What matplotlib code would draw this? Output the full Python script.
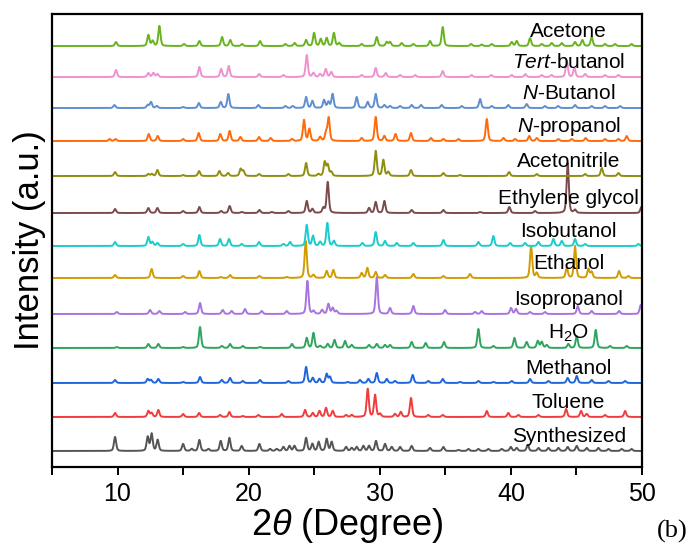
import numpy as np
import matplotlib.pyplot as plt

plt.rcParams['font.family'] = ['Liberation Sans', 'DejaVu Sans']
plt.rcParams['mathtext.fontset'] = 'custom'
plt.rcParams['mathtext.rm'] = 'Liberation Sans'
plt.rcParams['mathtext.it'] = 'Liberation Sans:italic'

# peak positions (2theta) and heights, per sample
acetone_pos = [9.88, 12.35, 12.68, 13.19, 15.07, 16.24, 17.97, 18.6, 19.5, 20.87, 22.8, 23.5, 24.38, 24.99,
               25.5, 25.95, 26.5, 26.9, 28.62, 29.77, 30.53, 30.78, 31.67, 32.56, 33.83, 34.8, 36.96, 37.77,
               38.54, 40.06, 40.44, 41.46, 42.35, 43.11, 43.88, 44.89, 45.45, 46.16, 47.18, 47.94, 49.2]
acetone_int = [4, 11, 5, 20, 2, 5, 9, 6, 2, 5, 2, 3, 6, 13, 7, 8, 13, 3, 2, 9, 4, 4, 3, 2, 5, 19, 2, 1.5,
               2, 4, 5, 8, 2, 3, 3, 4, 6, 9, 2, 2, 2]

tert_pos = [9.88, 12.35, 12.73, 13.04, 16.24, 17.9, 18.48, 20.8, 22.65, 24.43, 24.94, 25.45, 25.88, 26.3,
            28.62, 29.69, 30.45, 31.55, 32.7, 34.8, 37.0, 38.5, 40.06, 41.1, 42.35, 43.1, 44.26, 44.84,
            45.66, 47.18, 48.2]
tert_int = [7, 4, 4, 3, 10, 8, 11, 3, 2, 22, 4, 3, 8, 5, 2, 9, 4, 2, 2, 6, 2, 2, 2, 3, 2, 2, 16, 9, 3, 2, 2]

nbut_pos = [9.76, 12.3, 12.55, 12.99, 15.0, 16.2, 17.87, 18.45, 20.74, 22.8, 23.36, 24.38, 24.86, 25.75,
            26.08, 26.4, 28.24, 29.08, 29.69, 30.35, 30.78, 31.55, 32.43, 33.15, 34.72, 36.25, 37.65, 38.54,
            39.8, 41.2, 42.6, 43.6, 44.89, 46.16, 47.18, 48.33]
nbut_int = [3, 3, 6, 2, 1, 5, 6, 14, 3, 2, 2, 11, 7, 8, 6, 14, 11, 6, 14, 3, 2, 2, 3, 3, 3, 2, 9, 2,
            3, 4, 2, 2, 3, 2, 2, 2]

nprop_pos = [9.4, 9.85, 12.38, 13.06, 15.0, 16.19, 17.84, 18.55, 19.37, 20.79, 21.68, 23.3, 24.22, 24.63,
             25.45, 25.9, 26.1, 28.62, 29.69, 30.35, 31.2, 32.38, 33.9, 34.85, 36.0, 38.16, 39.43, 40.32,
             41.4, 41.97, 43.62, 44.64, 45.7, 47.18, 48.2, 48.83]
nprop_int = [2, 2, 7, 5, 2, 8, 7, 10, 4, 4, 3, 2, 21, 12, 4, 8, 23, 3, 24, 5, 7, 8, 3, 2, 2, 22, 3, 2,
             5, 3, 2, 2, 3, 2, 2, 5]

acn_pos = [9.81, 12.35, 12.62, 13.04, 15.0, 16.22, 17.77, 18.43, 19.39, 19.6, 20.8, 23.03, 24.38, 25.32,
           25.8, 26.03, 26.3, 29.69, 30.27, 30.65, 32.38, 34.85, 36.12, 39.86, 41.97, 45.66, 46.93, 48.2]
acn_int = [4, 2, 2, 6, 1, 5, 5, 3, 7, 5, 2, 2, 13, 2, 14, 11, 4, 25, 16, 4, 6, 3, 1, 4, 2, 2, 8, 3]

eg_pos = [9.81, 12.35, 13.04, 15.0, 16.24, 17.9, 18.55, 19.47, 20.82, 21.76, 23.03, 24.43, 24.86, 25.7,
          26.03, 29.18, 29.69, 30.35, 32.43, 34.85, 37.65, 39.88, 41.84, 44.33, 44.89, 49.95]
eg_int = [4, 5, 5, 2, 6, 2, 7, 1, 3, 1, 2, 12, 4, 5, 31, 5, 11, 12, 3, 3, 1, 6, 2, 50, 3, 6]

isobut_pos = [9.81, 12.35, 12.66, 13.04, 15.0, 16.24, 17.82, 18.5, 19.47, 20.79, 22.65, 23.16, 24.43, 24.91,
              25.45, 26.0, 26.5, 28.67, 29.69, 30.4, 31.29, 32.56, 34.85, 37.52, 38.66, 39.94, 41.08, 42.1,
              43.24, 43.88, 44.89, 45.66, 49.72]
isobut_int = [4, 9, 4, 3, 2, 11, 7, 7, 2, 4, 2, 4, 21, 10, 4, 23, 5, 3, 14, 5, 3, 3, 6, 4, 10, 3, 3, 4,
              7, 5, 7, 2, 2]

ethanol_pos = [9.81, 12.6, 15.0, 16.24, 17.87, 18.58, 20.82, 22.9, 24.35, 24.94, 25.95, 26.46, 28.62, 29.05,
               29.69, 30.4, 32.56, 34.85, 36.88, 41.54, 41.97, 44.26, 44.89, 45.91, 46.16, 48.25, 48.96]
ethanol_int = [3, 9, 2, 7, 1, 3, 2, 1, 37, 3, 7, 8, 5, 10, 6, 3, 4, 2, 4, 32, 5, 10, 32, 9, 6, 7, 2]

iprop_pos = [9.94, 12.48, 13.19, 15.15, 16.29, 18.02, 18.7, 19.72, 20.99, 22.9, 24.48, 24.94, 25.6, 26.08,
             26.41, 26.7, 29.77, 30.78, 32.56, 34.98, 37.27, 37.77, 40.01, 40.39, 41.46, 42.6, 45.1, 46.16,
             48.25, 49.9]
iprop_int = [2, 4, 3, 2, 11, 4, 3, 5, 3, 3, 33, 3, 4, 10, 6, 3, 37, 6, 8, 4, 2, 3, 6, 5, 2, 2, 8, 3, 3, 9]

water_pos = [9.94, 12.35, 13.11, 15.0, 16.29, 17.95, 18.58, 19.55, 20.87, 23.3, 24.43, 24.94, 25.45, 26.03,
             26.55, 27.35, 27.86, 29.18, 29.77, 30.4, 30.78, 32.43, 33.5, 34.9, 37.52, 38.66, 40.27, 41.2,
             42.05, 42.35, 42.73, 44.38, 45.02, 46.47, 47.56, 48.83]
water_int = [1, 4, 4, 1, 21, 2, 4, 2, 1, 4, 10, 15, 2, 4, 8, 7, 3, 3, 4, 3, 3, 6, 5, 6, 19, 2, 10, 6,
             7, 6, 3, 4, 12, 18, 2, 2]

methanol_pos = [9.81, 12.3, 12.55, 13.11, 15.0, 16.29, 17.95, 18.58, 19.55, 20.87, 23.03, 24.38, 24.89,
                25.4, 25.95, 26.2, 27.55, 28.49, 29.13, 29.77, 30.53, 31.16, 32.51, 33.7, 34.8, 36.12, 37.52,
                38.66, 40.06, 41.46, 42.86, 44.33, 45.02, 46.16, 47.44, 48.71]
methanol_int = [3, 4, 3, 4, 1, 6, 3, 5, 2, 3, 2, 16, 5, 4, 9, 6, 1, 3, 4, 10, 4, 2, 8, 2, 4, 1, 2,
                1, 2, 4, 2, 5, 7, 3, 2, 2]

toluene_pos = [9.81, 12.35, 12.6, 13.11, 15.0, 16.22, 17.82, 18.53, 19.55, 20.74, 22.52, 24.3, 24.89, 25.4,
               25.9, 26.41, 27.43, 27.86, 29.08, 29.64, 30.02, 31.16, 31.6, 32.38, 33.7, 34.8, 38.16, 39.8,
               40.57, 42.1, 44.21, 45.35, 45.78, 47.18, 48.71]
toluene_int = [4, 6, 4, 7, 3, 4, 2, 5, 1, 2, 3, 7, 4, 6, 9, 6, 2, 2, 28, 22, 3, 3, 5, 19, 2, 2, 6, 4,
               2, 2, 8, 6, 3, 2, 6]

synth_pos = [9.81, 12.3, 12.6, 13.06, 15.0, 15.66, 16.24, 16.93, 17.87, 18.53, 19.47, 20.82, 21.63, 22.14,
             22.65, 23.11, 23.49, 24.38, 24.86, 25.34, 25.95, 26.33, 27.43, 27.86, 28.24, 28.75, 29.18, 29.71,
             30.4, 30.91, 31.55, 32.43, 33.83, 34.85, 36.0, 36.76, 37.52, 38.28, 39.3, 39.99, 40.44, 41.28,
             42.1, 42.86, 43.62, 44.33, 45.02, 45.78, 46.67, 47.44, 48.45, 49.2]
synth_int = [14, 14, 17, 11, 7, 2, 11, 2, 10, 13, 5, 7, 2, 2, 4, 5, 5, 13, 7, 9, 12, 9, 4, 3, 4, 5, 5, 10,
             7, 4, 4, 5, 3, 4, 1, 2, 2, 2, 2, 4, 3, 6, 3, 3, 3, 4, 5, 3, 3, 2, 2, 2]

names = ['Synthesized', 'Toluene', 'Methanol', 'H$_2$O', 'Isopropanol', 'Ethanol', 'Isobutanol',
         'Ethylene glycol', 'Acetonitrile', '$\\it{N}$-propanol', '$\\it{N}$-Butanol', '$\\it{Tert}$-butanol',
         'Acetone']
positions = [synth_pos, toluene_pos, methanol_pos, water_pos, iprop_pos, ethanol_pos, isobut_pos,
             eg_pos, acn_pos, nprop_pos, nbut_pos, tert_pos, acetone_pos]
heights = [synth_int, toluene_int, methanol_int, water_int, iprop_int, ethanol_int, isobut_int,
           eg_int, acn_int, nprop_int, nbut_int, tert_int, acetone_int]
offsets = [16, 50, 84, 119, 153, 189, 221, 254, 291, 326, 359, 390, 421]
colors = ['#555555', '#f03c3c', '#1f66dd', '#2ea55e', '#a874e0', '#d29b00', '#1ccccc',
          '#7a4b4b', '#8e8e10', '#ff6a0a', '#5e8fcf', '#ee92cf', '#68b41e']


def pattern(x, pos, hts, w=0.2):
    y = np.zeros_like(x)
    for p, h in zip(pos, hts):
        g = np.exp(-4 * np.log(2) * ((x - p) / w) ** 2)
        l = 1 / (1 + 4 * ((x - p) / w) ** 2)
        y += h * (0.6 * g + 0.4 * l)
    return y


x = np.arange(5, 50.001, 0.01)

fig = plt.figure(figsize=(6.95, 5.51), dpi=100)
ax = fig.add_axes([0.0748, 0.1525, 0.849, 0.822])

for name, pos, hts, off, c in zip(names, positions, heights, offsets, colors):
    ax.plot(x, pattern(x, pos, hts) + off, color=c, lw=1.4)
    ax.text(44.4, off + 9, name, ha='center', va='baseline', fontsize=15, color='black')

ax.set_xlim(5, 50)
ax.set_ylim(0, 453)
ax.set_xticks([10, 20, 30, 40, 50])
ax.set_xticks([5, 15, 25, 35, 45], minor=True)
ax.set_yticks([])
ax.tick_params(axis='x', which='both', direction='out', length=6, width=1.4, labelsize=18, pad=5)
for s in ax.spines.values():
    s.set_linewidth(1.6)

ax.set_xlabel(r'2$\theta$ (Degree)', fontsize=26, labelpad=0)
ax.set_ylabel('Intensity (a.u.)', fontsize=25, labelpad=4)

fig.text(0.99, 0.025, '(b)', ha='right', va='baseline', fontsize=19, family='Liberation Serif')

plt.savefig('out.png', dpi=100)
